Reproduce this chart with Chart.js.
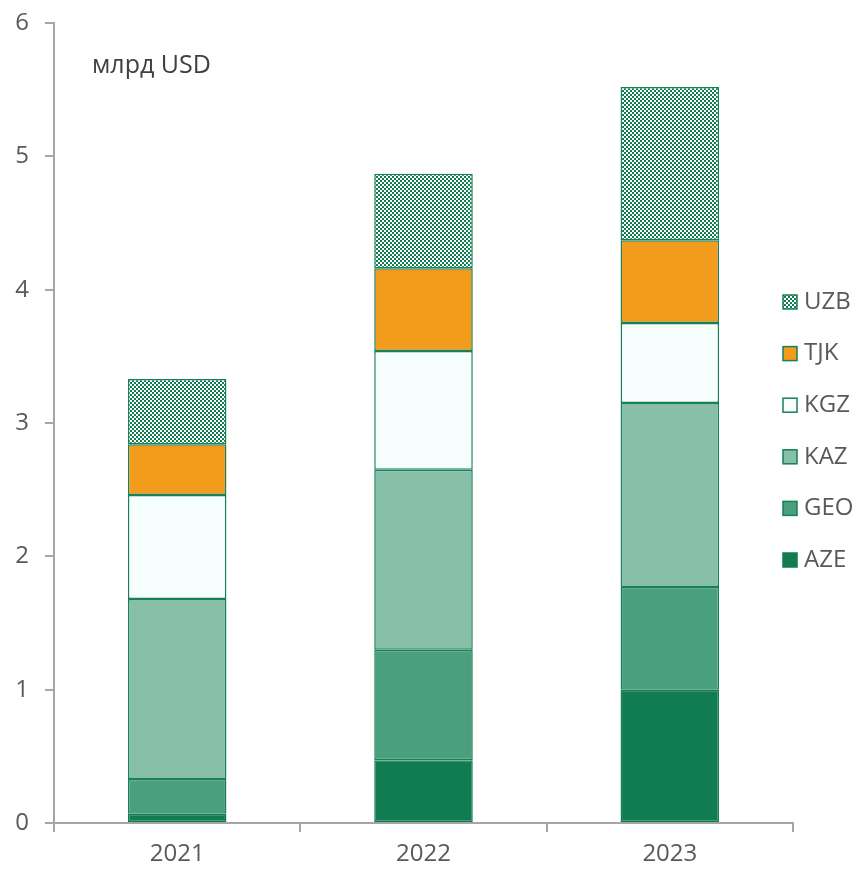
<!DOCTYPE html>
<html>
<head>
<meta charset="utf-8">
<script src="https://cdn.jsdelivr.net/npm/chart.js@4/dist/chart.umd.min.js"></script>
<style>
  html, body { margin: 0; padding: 0; background: #fff; }
  #wrap { width: 861px; height: 872px; }
</style>
</head>
<body>
<div id="wrap"><canvas id="remitChart" width="861" height="872"></canvas></div>
<script>
const years = ['2021', '2022', '2023'];
const aze = [0.07, 0.47, 1.00];
const geo = [0.26, 0.83, 0.77];
const kaz = [1.35, 1.35, 1.38];
const kgz = [0.78, 0.89, 0.60];
const tjk = [0.38, 0.62, 0.62];
const uzb = [0.49, 0.71, 1.15];
const yTicks = [0, 1, 2, 3, 4, 5, 6];

const FONT = '"Open Sans", sans-serif';
const GREY = '#595959';
const EDGE = '#168057';

// checkerboard fill for UZB
function checker() {
  const c = document.createElement('canvas');
  c.width = 4; c.height = 4;
  const g = c.getContext('2d');
  g.fillStyle = '#ffffff';
  g.fillRect(0, 0, 4, 4);
  g.fillStyle = '#107c50';
  g.fillRect(0, 0, 2, 2);
  g.fillRect(2, 2, 2, 2);
  return g.createPattern(c, 'repeat');
}
const uzbFill = checker();

const sets = [
  { label: 'AZE', data: aze, backgroundColor: '#107c50', borderColor: '#107c50' },
  { label: 'GEO', data: geo, backgroundColor: '#4a9f7f', borderColor: EDGE },
  { label: 'KAZ', data: kaz, backgroundColor: '#87bfa9', borderColor: EDGE },
  { label: 'KGZ', data: kgz, backgroundColor: '#f6fdfd', borderColor: EDGE },
  { label: 'TJK', data: tjk, backgroundColor: '#f39c1b', borderColor: EDGE },
  { label: 'UZB', data: uzb, backgroundColor: uzbFill, borderColor: EDGE }
];

// unit label and right-hand legend
const extras = {
  id: 'extras',
  afterDraw(chart) {
    const ctx = chart.ctx;
    ctx.save();
    ctx.font = '25px ' + FONT;
    ctx.fillStyle = '#404040';
    ctx.textBaseline = 'middle';
    ctx.textAlign = 'left';
    ctx.fillText('млрд USD', 92, 66);

    ctx.font = '24px ' + FONT;
    const items = chart.data.datasets.slice().reverse();
    items.forEach((ds, i) => {
      const y = 302 + i * 51.6;
      ctx.fillStyle = ds.backgroundColor;
      ctx.fillRect(783, y - 7, 14, 14);
      ctx.strokeStyle = ds.borderColor;
      ctx.lineWidth = 1.5;
      ctx.strokeRect(783, y - 7, 14, 14);
      ctx.fillStyle = GREY;
      ctx.fillText(ds.label, 804, y);
    });
    ctx.restore();
  }
};

new Chart(document.getElementById('remitChart'), {
  type: 'bar',
  data: {
    labels: years,
    datasets: sets.map(s => Object.assign({ borderWidth: 1.5, borderSkipped: false }, s))
  },
  options: {
    responsive: false,
    animation: false,
    layout: { padding: { top: 23, right: 68, left: 0, bottom: 0 } },
    datasets: { bar: { barPercentage: 0.4, categoryPercentage: 1 } },
    scales: {
      x: {
        stacked: true,
        afterFit: s => { s.height = 49; s.paddingLeft = 0; s.paddingRight = 0; },
        border: { color: '#a6a6a6', width: 2 },
        grid: { offset: true, drawOnChartArea: false, tickLength: 9, color: '#a6a6a6', lineWidth: 2 },
        ticks: { color: GREY, font: { family: FONT, size: 24 }, padding: 8 }
      },
      y: {
        stacked: true,
        min: 0,
        max: 6,
        afterFit: s => { s.width = 54; s.paddingTop = 0; s.paddingBottom = 0; },
        afterBuildTicks: s => { s.ticks = yTicks.map(v => ({ value: v })); },
        border: { color: '#a6a6a6', width: 2 },
        grid: { drawOnChartArea: false, tickLength: 9, color: '#a6a6a6', lineWidth: 2 },
        ticks: { color: GREY, font: { family: FONT, size: 24 }, padding: 16 }
      }
    },
    plugins: {
      legend: { display: false },
      tooltip: { enabled: false }
    }
  },
  plugins: [extras]
});
</script>
</body>
</html>
